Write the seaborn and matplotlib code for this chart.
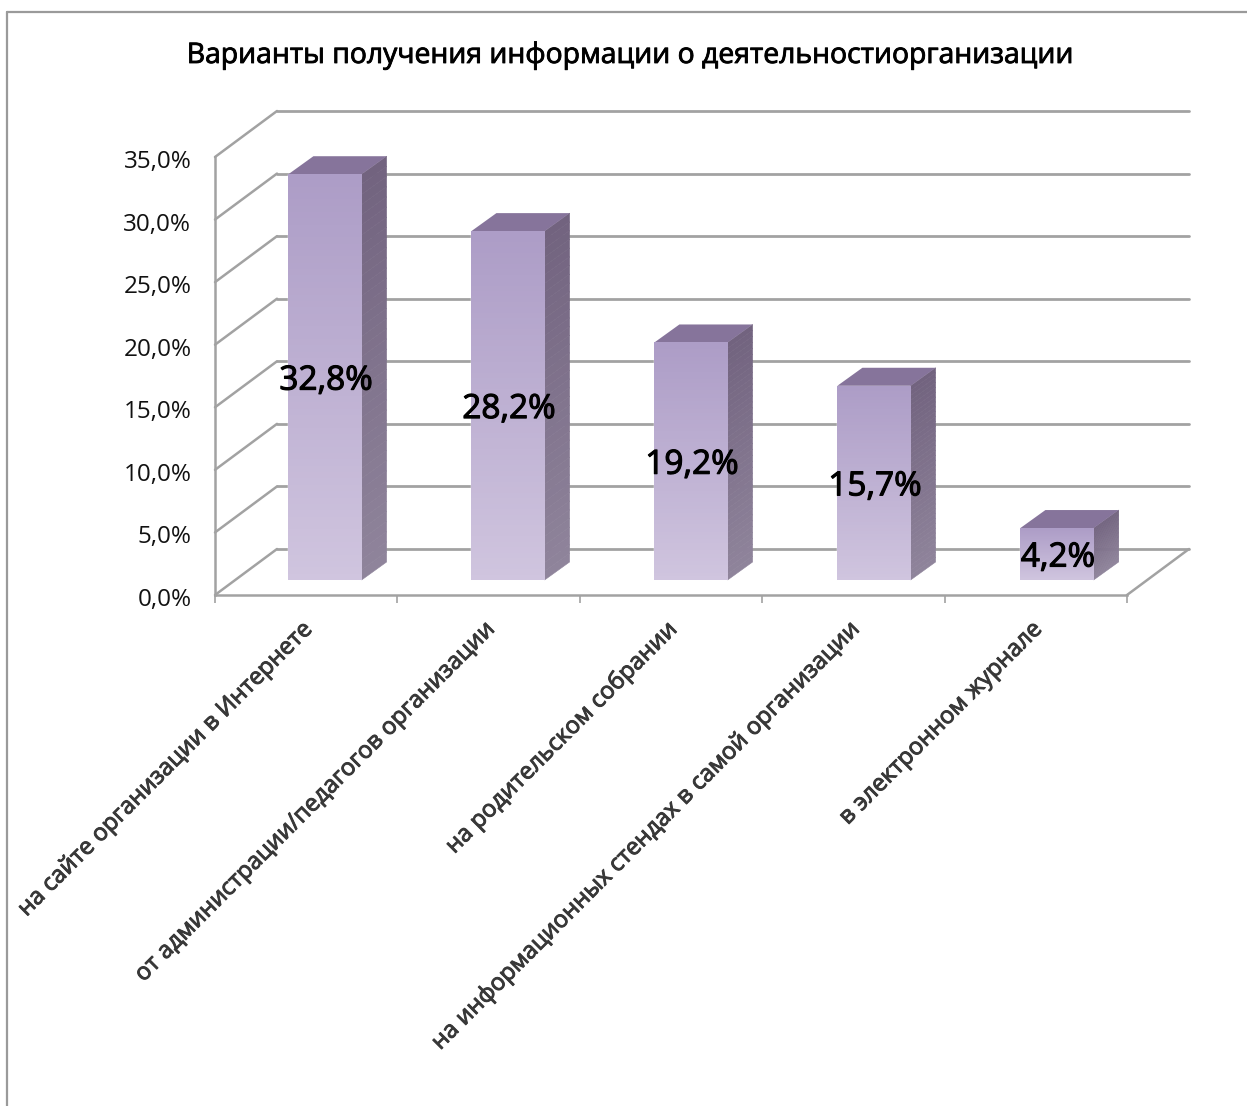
import numpy as np
import pandas as pd
import matplotlib
matplotlib.use("Agg")
import matplotlib.pyplot as plt
import matplotlib.patheffects as pe
from matplotlib.colors import LinearSegmentedColormap, to_rgb
from matplotlib.lines import Line2D
from matplotlib.patches import Polygon
from matplotlib.transforms import Affine2D, IdentityTransform
import seaborn as sns

categories = ["на сайте организации в Интернете",
              "от администрации/педагогов организации",
              "на родительском собрании",
              "на информационных стендах в самой организации",
              "в электронном журнале"]
values = [32.8, 28.2, 19.2, 15.7, 4.2]
value_labels = ["32,8%", "28,2%", "19,2%", "15,7%", "4,2%"]
y_ticks = [0, 5, 10, 15, 20, 25, 30, 35]
y_tick_labels = ["0,0%", "5,0%", "10,0%", "15,0%", "20,0%", "25,0%", "30,0%", "35,0%"]
title = "Варианты получения информации о деятельностиорганизации"

W, H = 1247, 1106
GRID = "#a2a2a2"
FRONT_TOP, FRONT_BOTTOM = "#ad9dc7", "#d0c5df"
SIDE_TOP, SIDE_BOTTOM = "#72637f", "#8f849b"
TOP_FACE = "#86749b"

sns.set_theme(style="white")
plt.rcParams["font.family"] = ["Open Sans", "DejaVu Sans"]

fig = plt.figure(figsize=(W / 100, H / 100), dpi=100, facecolor="white")


def box(left, right, top, bottom):
    return [left / W, 1 - bottom / H, (right - left) / W, (bottom - top) / H]


def heavy(width, color):
    return [pe.withStroke(linewidth=width, foreground=color)]


# main frame: front axis lines, ticks, category labels
ax = fig.add_axes(box(215, 1127, 157, 595), zorder=1)
ax.set_xlim(-0.5, 4.5)
ax.set_ylim(0, 35)
ax.patch.set_alpha(0)
sns.despine(ax=ax)
for side in ("left", "bottom"):
    ax.spines[side].set_color(GRID)
    ax.spines[side].set_linewidth(1.8)
ax.set_yticks(y_ticks, labels=y_tick_labels)
ax.tick_params(axis="y", length=0, pad=17, labelsize=17.5, labelcolor="#111111")
for t in ax.get_yticklabels():
    t.set_transform(t.get_transform() + Affine2D().translate(0, -2))
ax.set_xticks(np.arange(-0.5, 5), labels=[""] * 6)
ax.tick_params(axis="x", which="major", bottom=True, length=6, width=1.2, color=GRID, direction="out")
ax.set_xticks(np.arange(5), labels=categories, minor=True)
ax.tick_params(axis="x", which="minor", bottom=False, length=0, pad=20, labelsize=17, labelcolor="#383838")
for t in ax.get_xticklabels(minor=True):
    t.set_rotation(45)
    t.set_rotation_mode("anchor")
    t.set_ha("right")
    t.set_va("center")
    t.set_path_effects(heavy(0.7, "#383838"))
    t.set_transform(t.get_transform() + Affine2D().translate(3, -3))

# wall and floor, offset behind the front axis
DX, DY = 62, 46
back = ax.transData + Affine2D().translate(DX, DY)
for v in y_ticks:
    ax.plot([-0.5, 4.5], [v, v], color=GRID, lw=2.0, transform=back, clip_on=False, zorder=0)
    (x0, y0) = ax.transData.transform((-0.5, v))
    ax.add_line(Line2D([x0, x0 + DX], [y0, y0 + DY], color=GRID, lw=1.8,
                       transform=IdentityTransform(), clip_on=False, zorder=0))
(xr, yr) = ax.transData.transform((4.5, 0))
ax.add_line(Line2D([xr, xr + DX], [yr, yr + DY], color=GRID, lw=1.8,
                   transform=IdentityTransform(), clip_on=False, zorder=0))
ax.set_xlim(-0.5, 4.5)
ax.set_ylim(0, 35)

# bars sit midway along the floor, on their own slightly smaller scale
bx = fig.add_axes(box(233.5, 1148.5, 147, 580), zorder=2)
bx.patch.set_alpha(0)
data = pd.DataFrame({"category": categories, "value": values})
sns.barplot(data=data, x="category", y="value", order=categories, width=0.4,
            color=FRONT_BOTTOM, ax=bx, saturation=1)
bx.set_xlim(-0.5, 4.5)
bx.set_ylim(0, 35)
bx.axis("off")

cmap = LinearSegmentedColormap.from_list("front", [FRONT_BOTTOM, FRONT_TOP])
SX, SY = 25, 18
for patch, label in zip(list(bx.patches), value_labels):
    x, w, h = patch.get_x(), patch.get_width(), patch.get_height()
    im = bx.imshow(np.linspace(1, 0, 64)[:, None], extent=(x, x + w, 0, h), cmap=cmap,
                   aspect="auto", vmin=0, vmax=1, zorder=3)
    im.set_clip_path(patch)
    (lx, by) = bx.transData.transform((x, 0))
    (rx, ty) = bx.transData.transform((x + w, h))
    n = 40
    ys = np.linspace(by, ty, n + 1)
    c0, c1 = np.array(to_rgb(SIDE_BOTTOM)), np.array(to_rgb(SIDE_TOP))
    for k in range(n):
        f = k / (n - 1)
        bx.add_patch(Polygon([(rx, ys[k]), (rx + SX, ys[k] + SY), (rx + SX, ys[k + 1] + SY),
                              (rx, ys[k + 1])], closed=True, fc=c0 + (c1 - c0) * f,
                             ec=c0 + (c1 - c0) * f, lw=0.4,
                             transform=IdentityTransform(), clip_on=False, zorder=2))
    bx.add_patch(Polygon([(lx, ty), (rx, ty), (rx + SX, ty + SY), (lx + SX, ty + SY)], closed=True,
                         fc=TOP_FACE, ec="none", transform=IdentityTransform(),
                         clip_on=False, zorder=2))
    bx.annotate(label, xy=(x + w / 2, h / 2), xytext=(1, -4), textcoords="offset pixels",
                ha="center", va="center", fontsize=24, color="black", zorder=5,
                annotation_clip=False, path_effects=heavy(0.8, "black"))
bx.set_xlim(-0.5, 4.5)
bx.set_ylim(0, 35)

fig.text(630 / W, 1 - 56 / H, title, ha="center", va="center", fontsize=20.4,
         color="black", path_effects=heavy(0.6, "black"))

# outer frame of the chart area
for xs, ys in (([7 / W, 1], [1 - 12 / H, 1 - 12 / H]), ([7 / W, 7 / W], [1 - 12 / H, 0])):
    fig.add_artist(Line2D(xs, ys, color="#9a9a9a", lw=1.6))

fig.savefig("out.png", dpi=100)
